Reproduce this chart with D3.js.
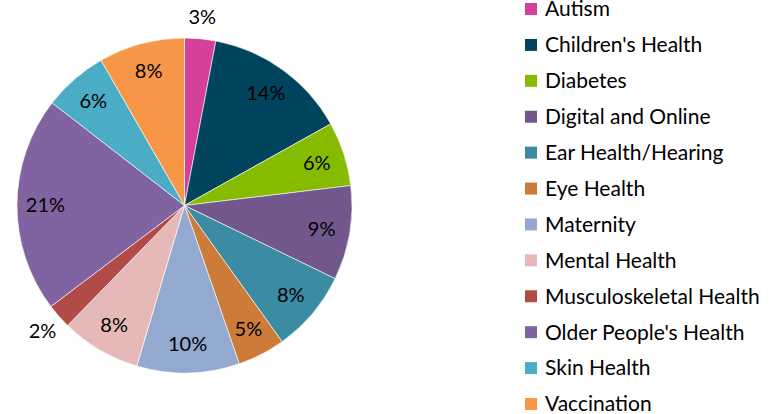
<!DOCTYPE html>
<html>
<head>
<meta charset="utf-8">
<script src="https://cdn.jsdelivr.net/npm/d3@7"></script>
<style>
  body { margin: 0; background: #fff; }
  svg text { font-family: Lato, "Open Sans", sans-serif; fill: #000; }
</style>
</head>
<body>
<script>
// categories and values (percent of total)
var categories = ["Autism", "Children's Health", "Diabetes", "Digital and Online",
                  "Ear Health/Hearing", "Eye Health", "Maternity", "Mental Health",
                  "Musculoskeletal Health", "Older People's Health", "Skin Health", "Vaccination"];
var values = [3.0, 13.9, 6.2, 9.1, 7.9, 4.6, 9.9, 7.7, 2.4, 20.8, 6.2, 8.3];
var colors = ["#d5409a", "#00445e", "#85bc00", "#72578c", "#3b8ca3", "#cd7b38",
              "#94a9cf", "#e6b8b7", "#b14b48", "#8064a2", "#4bacc6", "#f79646"];
// labels drawn outside the pie
var outside = ["Autism", "Musculoskeletal Health"];

var width = 771, height = 414;
var cx = 184.5, cy = 205.5, r = 167.5;

var svg = d3.select("body").append("svg")
    .attr("width", width)
    .attr("height", height);

var data = categories.map(function(c, i){ return {name: c, value: values[i]}; });
var total = d3.sum(values);

var pie = d3.pie().sort(null).value(function(d){ return d.value; });
var arc = d3.arc().innerRadius(0).outerRadius(r);
var color = d3.scaleOrdinal().domain(categories).range(colors);

var g = svg.append("g").attr("transform", "translate(" + cx + "," + cy + ")");

var arcs = pie(data);

g.selectAll("path")
    .data(arcs)
    .enter().append("path")
    .attr("d", arc)
    .attr("fill", function(d){ return color(d.data.name); })
    .attr("stroke", "#fff")
    .attr("stroke-width", 0.6);

var inArc = d3.arc().innerRadius(r * 0.83).outerRadius(r * 0.83);
var outArc = d3.arc().innerRadius(r * 1.13).outerRadius(r * 1.13);

g.selectAll("text.lbl")
    .data(arcs)
    .enter().append("text")
    .attr("class", "lbl")
    .attr("transform", function(d){
        var p = outside.indexOf(d.data.name) >= 0 ? outArc.centroid(d) : inArc.centroid(d);
        return "translate(" + p + ")";
    })
    .attr("text-anchor", "middle")
    .attr("dy", "0.35em")
    .style("font-size", "20px")
    .text(function(d){ return Math.round(d.data.value / total * 100) + "%"; });

// legend
var ly = d3.scalePoint().domain(categories).range([9, 404]);
var legend = svg.append("g").attr("transform", "translate(525,0)");
var item = legend.selectAll("g")
    .data(categories)
    .enter().append("g")
    .attr("transform", function(d){ return "translate(0," + ly(d) + ")"; });
item.append("rect")
    .attr("x", 0).attr("y", -6)
    .attr("width", 12).attr("height", 12)
    .attr("fill", function(d){ return color(d); });
item.append("text")
    .attr("x", 20)
    .attr("dy", "0.35em")
    .style("font-size", "21px")
    .text(function(d){ return d; });
</script>
</body>
</html>
